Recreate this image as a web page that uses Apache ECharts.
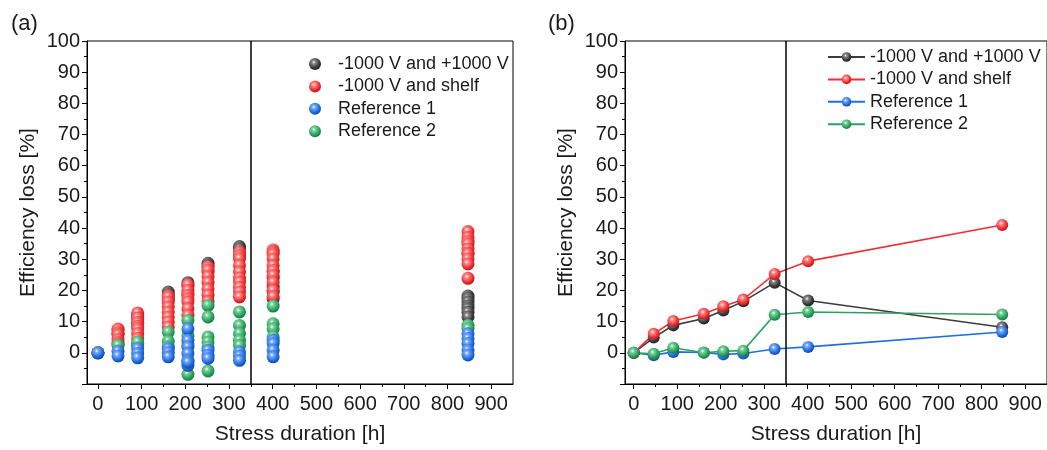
<!DOCTYPE html>
<html lang="en" style="height: 100%">
<head>
  <meta charset="utf-8">
</head>
<body style="height: 100%; margin: 0">
  <div id="container" style="width: 1047px; height: 450px"></div>
  <script type="text/javascript" src="https://fastly.jsdelivr.net/npm/echarts@6.0.0/dist/echarts.min.js"></script>
  <script type="text/javascript">
    // stress times [h]
    var times = [0, 46, 91, 161, 206, 252, 324, 401, 847];
    var names = ['-1000 V and +1000 V', '-1000 V and shelf', 'Reference 1', 'Reference 2'];
    var xTicks = [0, 100, 200, 300, 400, 500, 600, 700, 800, 900];
    var xMinorTicks = [50, 150, 250, 350, 450, 550, 650, 750, 850];

    // (a) single samples, one list per stress time
    var pmA = [
      [0], [7.4, 6.2], [12.0, 11.2, 9.5], [19.5, 18.6, 17.0], [22.5, 21.5, 19.0],
      [28.7, 28.0, 26.0], [34.1, 33.4, 31.0], [26.0, 24.0, 21.1, 19.5, 17.3],
      [18.2, 17.4, 16.3, 15.0, 14.2, 13.0, 11.5]
    ];
    var shelfA = [
      [0], [7.6, 6.4, 5.8, 4.3, 3.3, 2.7], [12.8, 11.2, 9.7, 8.5, 7.7, 6.2, 4.6, 3.0],
      [18.3, 17.9, 16.3, 14.7, 13.1, 11.5, 9.9, 8.3], [21.8, 20.0, 18.4, 17.3, 16.3, 14.2, 12.0],
      [27.5, 26.5, 24.5, 22.6, 20.5, 18.5, 16.5],
      [32.3, 31.2, 30.2, 28.0, 25.9, 24.0, 22.7, 21.0, 19.5, 17.9],
      [33.0, 32.3, 31.7, 30.1, 28.0, 26.4, 24.8, 22.6, 20.0, 18.0],
      [38.9, 37.0, 35.8, 34.9, 33.3, 32.0, 31.7, 30.1, 28.5, 23.9]
    ];
    var ref1A = [
      [0], [0.5, -1.0], [1.4, -0.2, -1.6], [1.4, 0.1, -1.3], [7.7, 4.0, 1.9, -0.2, -2.4, -4.0, -3.0],
      [0.8, -0.8, -1.8], [0.3, -1.0, -2.4], [4.0, 3.0, 0.8, -1.3], [6.1, 4.6, 3.0, 0.8, -0.7]
    ];
    var ref2A = [
      [0], [2.4], [2.4, 3.5], [6.7, 3.7, 2.0], [10.4, 5.5, 2.5, -6.9],
      [15.2, 11.5, 5.1, 3.5, 1.9, -5.8], [13.1, 8.8, 6.2, 4.0, 2.4], [15.0, 9.3, 7.7, 5.1], [8.8, 7.8]
    ];

    // (b) averages
    var pmB = [0, 4.9, 8.8, 11.0, 13.6, 16.5, 22.5, 16.8, 8.2];
    var shelfB = [0, 6.1, 10.2, 12.5, 14.9, 17.1, 25.3, 29.4, 41.0];
    var ref1B = [0, -0.8, 0.3, 0.1, -0.5, -0.2, 1.2, 1.9, 6.7];
    var ref2B = [0, -0.3, 1.6, 0, 0.5, 0.7, 12.2, 13.1, 12.3];

    var colors = [
      ['#3c3c3c', '#8a8a8a', '#222222'],
      ['#ee2f33', '#ff8a8a', '#b81b1f'],
      ['#1f6de0', '#79aaf5', '#1249a8'],
      ['#2aa35c', '#7fd29f', '#1a7740']
    ];

    function ball(c) {
      return {
        type: 'radial', x: 0.4, y: 0.35, r: 0.65,
        colorStops: [
          { offset: 0, color: '#ffffff' },
          { offset: 0.22, color: c[1] },
          { offset: 0.7, color: c[0] },
          { offset: 1, color: c[2] }
        ]
      };
    }

    function flat(cols) {
      var out = [];
      cols.forEach(function (vals, i) {
        vals.forEach(function (v) { out.push([times[i], v]); });
      });
      return out;
    }
    function pairs(vals) {
      return vals.map(function (v, i) { return [times[i], v]; });
    }

    var font = 'Liberation Sans, Arial, sans-serif';
    var vline = {
      silent: true,
      symbol: ['none', 'none'],
      label: { show: false },
      lineStyle: { color: '#000', width: 1.5, type: 'solid' },
      data: [{ xAxis: 350 }]
    };

    function xAxes(grid, min) {
      return [{
        type: 'value', gridIndex: grid, min: min, max: 950, position: 'bottom',
        name: 'Stress duration [h]', nameLocation: 'middle', nameGap: 40,
        nameTextStyle: { fontSize: 21, color: '#1a1a1a', fontFamily: font },
        axisLine: { onZero: false, lineStyle: { color: '#000', width: 1 } },
        axisTick: { customValues: xTicks, length: 5, lineStyle: { color: '#000' } },
        axisLabel: { customValues: xTicks, fontSize: 20, color: '#1a1a1a', fontFamily: font, margin: 10 },
        splitLine: { show: false }
      }, {
        type: 'value', gridIndex: grid, min: min, max: 950, position: 'bottom',
        axisLine: { show: false, onZero: false },
        axisTick: { customValues: xMinorTicks, length: 3, lineStyle: { color: '#000' } },
        axisLabel: { show: false },
        splitLine: { show: false }
      }];
    }
    function yAxis(grid) {
      return {
        type: 'value', gridIndex: grid, min: -10, max: 100, interval: 10, position: 'left',
        name: 'Efficiency loss [%]', nameLocation: 'middle', nameGap: 48,
        nameTextStyle: { fontSize: 21, color: '#1a1a1a', fontFamily: font },
        axisLine: { show: true, onZero: false, lineStyle: { color: '#000', width: 1 } },
        axisTick: { show: true, length: 5, lineStyle: { color: '#000' } },
        minorTick: { show: true, splitNumber: 2, length: 3, lineStyle: { color: '#000' } },
        axisLabel: {
          fontSize: 20, color: '#1a1a1a', fontFamily: font, margin: 7,
          formatter: function (v) { return v < 0 ? '' : v; }
        },
        splitLine: { show: false }
      };
    }

    var series = [];
    var orderA = [0, 1, 3, 2]; // blue drawn on top
    var dataA = [pmA, shelfA, ref1A, ref2A];
    orderA.forEach(function (k, j) {
      series.push({
        name: 'a' + k, type: 'scatter', xAxisIndex: 0, yAxisIndex: 0,
        symbolSize: 13, data: flat(dataA[k]),
        itemStyle: { color: ball(colors[k]), opacity: 1 },
        markLine: j === 0 ? vline : undefined
      });
    });
    var dataB = [pmB, shelfB, ref1B, ref2B];
    dataB.forEach(function (vals, k) {
      series.push({
        name: 'b' + k, type: 'line', xAxisIndex: 2, yAxisIndex: 1,
        symbol: 'circle', symbolSize: 12, showAllSymbol: true, data: pairs(vals),
        lineStyle: { color: colors[k][0], width: 1.6 },
        itemStyle: { color: ball(colors[k]) },
        markLine: k === 0 ? vline : undefined
      });
    });

    function legendFmt(n) { return names[+n.slice(1)]; }

    var option = {
      animation: false,
      textStyle: { fontFamily: font },
      title: [
        { text: '(a)', left: 6, top: 8, textStyle: { fontSize: 22, fontWeight: 'normal', color: '#1a1a1a', fontFamily: font } },
        { text: '(b)', left: 543, top: 8, textStyle: { fontSize: 22, fontWeight: 'normal', color: '#1a1a1a', fontFamily: font } }
      ],
      grid: [
        { left: 87, top: 41, width: 426, height: 345, show: true, borderColor: '#000', borderWidth: 1, containLabel: false },
        { left: 625, top: 41, width: 427, height: 345, show: true, borderColor: '#000', borderWidth: 1, containLabel: false }
      ],
      legend: [{
        data: ['a0', 'a1', 'a2', 'a3'], formatter: legendFmt, orient: 'vertical',
        left: 304, top: 50, itemWidth: 36, itemHeight: 12, itemGap: 4.4,
        textStyle: { fontSize: 18, color: '#1a1a1a', fontFamily: font }
      }, {
        data: ['b0', 'b1', 'b2', 'b3'], formatter: legendFmt, orient: 'vertical',
        left: 822, top: 43, itemWidth: 37, itemHeight: 12, itemGap: 4.4,
        textStyle: { fontSize: 18, color: '#1a1a1a', fontFamily: font }
      }],
      xAxis: xAxes(0, -25).concat(xAxes(1, -20)),
      yAxis: [yAxis(0), yAxis(1)],
      series: series
    };

    var myChart = echarts.init(document.getElementById('container'), null, { renderer: 'canvas' });
    myChart.setOption(option);
  </script>
</body>
</html>
